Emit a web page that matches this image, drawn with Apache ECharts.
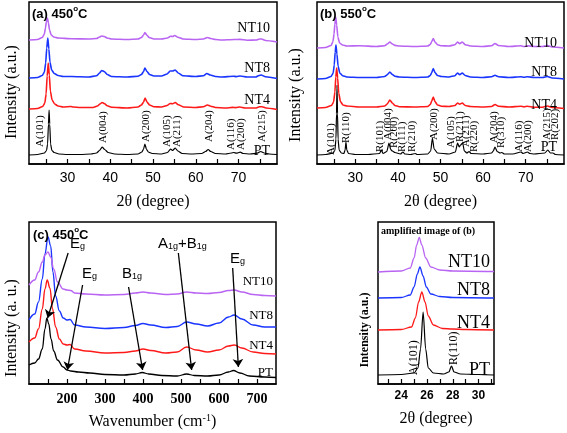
<!DOCTYPE html>
<html><head><meta charset="utf-8">
<script src="https://cdn.jsdelivr.net/npm/echarts@6/dist/echarts.min.js"></script>
<style>html,body{margin:0;padding:0;background:#fff}#c{width:567px;height:433px}</style>
</head><body><div id="c"></div>
<script>
// ---------- Panel (a): XRD 450°C  [2theta, intensity(a.u., offset)] ----------
const xrdA_PT = [[21,9],[23,9.5],[24.6,11],[25.1,13.5],[25.35,20],[25.55,40],[25.7,54],[25.85,40],[26.05,20],[26.35,13.5],[26.9,11.5],[28,10],[30,9.5],[33,9.5],[35.5,10],[36.8,11],[37.5,13.5],[38.1,17],[38.7,14.5],[39.5,11.5],[41,10],[44,9.5],[46.5,10],[47.4,12],[47.8,15],[48.1,20],[48.45,15],[48.9,12],[49.8,10.5],[52,10],[53.4,11.5],[54.1,15],[54.6,13.5],[55.2,16],[55.8,13],[56.8,10.5],[59,10],[61.4,10.5],[62.3,12.5],[62.9,14.5],[63.5,12.5],[64.6,10.5],[67,10],[68.3,11],[68.9,11.5],[69.5,10.8],[70.4,11.8],[71.1,10.5],[72.7,10],[74.4,10.8],[75.2,12.5],[76,11],[77.2,10],[79,9.5]];
const xrdA_NT4 = [[21,55],[23,55.5],[24.2,57.5],[24.7,61],[25.0,70],[25.25,88],[25.5,101],[25.75,89],[26.0,73],[26.4,64],[27.0,60],[27.8,58],[29,57],[30.8,57.5],[31.3,57],[33,56.5],[36,56.5],[37.0,58],[37.6,60],[38.1,61.5],[38.6,60.5],[39.3,58.2],[40.3,56.8],[44,56],[46.5,57],[47.3,59],[47.8,62],[48.15,66],[48.6,62],[49.2,59],[50.2,57.2],[52,57],[53.3,58.5],[54.0,60.5],[54.6,60.2],[55.2,61.5],[55.9,59.3],[57.2,57],[60,56.5],[61.8,57.2],[62.7,59],[63.5,57.8],[64.6,56.5],[67,56],[68.6,56.6],[69.4,56.4],[70.3,57],[71.5,56],[74,56],[74.9,57.2],[75.5,57.3],[76.4,56],[79,54.5]];
const xrdA_NT8 = [[21,86],[23,86.5],[24.1,88.5],[24.6,92],[24.9,101],[25.15,116],[25.4,126],[25.65,115],[25.9,102],[26.3,94],[26.9,90.5],[27.8,88.5],[29,87.5],[31,87.5],[35,87],[36.8,88.2],[37.5,91],[38.0,93.5],[38.6,92.5],[39.3,89.5],[40.3,87.5],[44,87],[46.5,87.8],[47.3,89.5],[47.8,92.5],[48.1,96],[48.6,92.5],[49.2,89.5],[50.2,88],[52,88],[53.3,90],[54.0,93],[54.6,93],[55.2,94],[55.9,91],[57,88.2],[60,87.5],[61.8,88.2],[62.6,90.5],[63.4,89],[64.6,87.5],[66,87],[68.8,87.8],[69.5,87.4],[70.4,88],[72,87],[74,87],[74.8,88.5],[75.3,89],[76.3,87.3],[79,85.5]];
const xrdA_NT10 = [[21,124],[23,124.5],[24.1,126.5],[24.6,130],[24.85,136],[25.05,142],[25.3,146],[25.55,141],[25.8,134],[26.2,129],[26.8,127],[27.8,126],[31,125.2],[35,125],[36.8,125.5],[37.5,127],[38.0,128],[38.6,127.5],[39.3,126],[40.3,125],[44,124.5],[46.5,125],[47.3,126.5],[47.8,129],[48.1,131.5],[48.55,129],[49.1,126.5],[50.2,125],[52,125],[53.4,126],[54.1,127.8],[54.6,127.5],[55.1,128.5],[55.8,126.8],[57,125],[60,124.5],[61.8,125],[62.7,126.5],[63.5,125.5],[64.6,124.5],[66,124],[69,124.5],[70.3,124.6],[72,123.8],[74.2,124],[74.9,125],[75.4,125],[76.3,123.5],[79,122]];

// ---------- Panel (b): XRD 550°C ----------
const xrdB_PT = [[21,9],[23,9.5],[24.7,10.8],[25.2,13.5],[25.45,25],[25.58,50],[25.7,79],[25.82,50],[25.95,25],[26.2,14],[26.7,11],[27.3,10.5],[27.6,14],[27.8,22],[28.0,14],[28.4,10.5],[30,9.5],[33,9.5],[35.7,10.5],[36.1,14],[36.5,10.5],[37.4,12.5],[37.9,21],[38.3,14.5],[38.7,13],[39.3,11.5],[40.6,10],[41.2,12],[41.6,10],[43,9.5],[44.1,10.5],[44.5,9.5],[47,10],[47.7,13],[48.1,26],[48.5,15],[49.3,11],[52,10],[53.5,12],[54.0,21],[54.4,17],[54.7,19],[55.2,21],[55.6,13],[56.2,11],[56.7,12.5],[57.2,10.5],[60,10],[62,11],[62.4,13],[62.8,17],[63.3,12.5],[64,11],[64.4,11.5],[65,10],[67,10],[68.9,12],[69.4,10.5],[70.4,12],[71,10.5],[72,10],[74.5,11],[75.2,14],[75.8,11],[76.4,11],[77,9.5],[79,9]];
const xrdB_NT4 = [[21,56],[23,56.5],[24.4,58.5],[24.9,62],[25.2,72],[25.42,87],[25.62,96],[25.85,86],[26.1,71],[26.5,62.5],[27.1,59],[28,58],[31,57],[35,57],[36.9,58],[37.5,60],[38.1,64],[38.7,61],[39.3,58.5],[40.3,57.3],[44,57],[47,57.5],[47.6,59.5],[47.95,63],[48.3,67],[48.7,62.5],[49.3,59],[50.2,57.8],[52,57.5],[53.4,58.5],[54.0,61],[54.5,59.8],[55.1,61],[55.8,58.5],[57,57.5],[60,57],[62,57.5],[62.8,59.5],[63.6,57.8],[66,57],[68.9,57.8],[69.6,57.1],[70.4,57.8],[72,56.8],[74,56.8],[75.1,58],[76.2,56.5],[79,55.5]];
const xrdB_NT8 = [[21,85],[23,85.5],[24.3,87.5],[24.8,91],[25.05,99],[25.27,112],[25.45,119],[25.68,110],[25.95,98],[26.35,91],[27,88.3],[28,87],[31,86.5],[35,86.5],[36.9,87.5],[37.5,89.2],[38.1,92],[38.7,89.5],[39.3,87.8],[40.3,87],[44,86.5],[47,87],[47.6,88.5],[47.95,91.5],[48.3,95.5],[48.7,91.5],[49.3,88.5],[50.2,87.5],[52,87],[53.4,88.3],[54.0,91],[54.5,89.3],[55.1,91],[55.8,88.5],[57,87],[60,86.5],[62,87.3],[62.8,88.7],[63.6,87.3],[66,86.5],[68.9,87.3],[69.6,86.7],[70.4,87.3],[72,86.5],[74,86.5],[75.1,87.5],[76.2,86],[79,85]];
const xrdB_NT10 = [[21,116],[23,116.5],[24.3,118.5],[24.75,122.5],[25.0,130],[25.2,140],[25.4,147],[25.62,139],[25.9,127],[26.3,121],[27,119],[28,118],[31,118.3],[35,117.5],[36.9,118.3],[37.5,120],[38.1,122],[38.7,120],[39.3,118.6],[40.3,118],[44,117.5],[47,118],[47.6,119.5],[47.95,122.5],[48.3,125.5],[48.7,122],[49.3,119.3],[50.2,118.2],[52,118],[53.4,119.2],[54.0,122],[54.5,120.3],[55.1,122],[55.8,119.3],[57,118],[60,117.5],[62,118.3],[62.8,120.5],[63.6,118.5],[66,117.5],[68.9,118.2],[69.6,117.5],[70.4,118.2],[72,117.5],[74,117.5],[75.1,118.5],[76.2,117],[79,116]];

// ---------- Panel (c): Raman 450°C  [wavenumber, intensity] ----------
const ramC_PT = [[100,19],[115,21],[125,25],[135,35],[142,55],[147,66],[152,60],[158,45],[165,33],[175,24],[190,17],[200,14],[210,13],[230,12],[260,11],[300,9.5],[350,9],[380,10],[398,11.5],[415,10],[450,8.5],[490,8],[515,10],[535,8.5],[570,8],[600,9],[625,12],[638,13.5],[655,11],[680,8],[720,7],[750,6.5]];
const ramC_NT4 = [[100,42],[115,46],[125,55],[135,75],[142,95],[148,104],[155,96],[162,75],[170,57],[180,45],[190,40],[200,39],[208,39.5],[220,35],[250,33],[300,31],[350,31.5],[380,33],[400,35],[420,33.5],[460,31],[490,32],[515,37],[540,34],[570,32],[600,34],[625,38],[640,39],[660,36],[690,32],[720,30.5],[750,30]];
const ramC_NT8 = [[100,64],[115,70],[125,82],[135,105],[142,130],[150,147],[157,138],[163,112],[170,88],[180,73],[190,66],[200,64],[208,64.5],[220,59],[250,57],[300,55.5],[350,56.5],[380,58.5],[400,60.5],[420,59],[460,56.5],[490,57.5],[515,62],[540,60],[570,58],[600,61],[625,67],[640,69],[660,65],[690,59],[720,57],[750,57]];
const ramC_NT10 = [[100,99],[115,104],[125,112],[135,122],[142,129],[150,132],[157,127],[165,115],[175,102],[190,95],[200,94],[210,93.5],[220,91],[250,90],[300,89],[350,89.5],[380,91],[400,92],[420,91],[460,89.5],[490,90],[515,92],[540,91],[570,90.5],[600,91.5],[625,93.5],[640,94],[660,92],[690,89.5],[720,88.5],[750,88]];

// ---------- Panel (d): amplified image of (b) ----------
const ampD_PT = [[22.2,9],[24,9.5],[25,11],[25.3,16],[25.5,35],[25.7,72],[25.9,35],[26.1,16],[26.5,11],[27.3,10],[27.7,12],[27.9,18],[28.1,12],[28.6,10],[30,9.5],[31.2,9]];
const ampD_NT4 = [[22.2,54],[24,54.5],[24.8,57],[25.1,66],[25.35,82],[25.6,92],[25.85,82],[26.1,68],[26.5,59],[27.2,55.5],[28,55],[29,54.5],[31.2,54]];
const ampD_NT8 = [[22.2,86],[24,86.5],[24.7,89],[25.0,97],[25.25,110],[25.45,117],[25.7,108],[25.95,97],[26.3,90],[27,87.5],[28,86.5],[31.2,86]];
const ampD_NT10 = [[22.2,112],[24,113],[24.7,116],[25.0,126],[25.2,139],[25.4,146.5],[25.6,139],[25.9,126],[26.3,117],[27,114],[28,113],[31.2,112.5]];

// ---------- axes ticks / labels ----------
const ticksXRD = [25,30,35,40,45,50,55,60,65,70,75];
const labelsXRD = [30,40,50,60,70];
const ticksRaman = [150,200,250,300,350,400,450,500,550,600,650,700];
const labelsRaman = [200,300,400,500,600,700];
const ticksAmp = [23,24,25,26,27,28,29,30,31];
const labelsAmp = [24,26,28,30];

// ---------- annotations [text, x, y] in data units ----------
const annA = [['A(101)',23.5,17],['A(004)',38.3,21],['A(200)',48.5,22],['A(105)',53.2,17],['A(211)',55.6,17],['A(204)',63.2,22],['A(116)',68.3,14],['A(200)',70.7,14],['A(215)',75.5,22]];
const annB = [['A(101)',24.4,9],['R(110)',27.9,21],['R(101)',35.8,12],['A(004)',37.6,24],['R(200)',39.2,16],['R(111)',41.0,12],['R(210)',43.3,12],['A(200)',48.5,24],['A(105)',52.5,16],['R(211)',54.6,22],['A(211)',56.0,17],['R(220)',57.8,12],['A(204)',62.7,21],['R(310)',64.2,16],['A(116)',68.4,12],['A(200)',70.6,12],['A(215)',75.0,24],['R(202)',76.8,24]];
const annD = [['A(101)',24.95,9],['R(110)',28.1,19]];
// Raman arrows [x1,y1,x2,y2] and labels [text, x, y]
const arrowsC = [[203,131,149,66],[241,99,201,14],[362,97,399,14],[493,131,528,14],[636,116,651,17]];
const arrowLabelsC = [['{b|E}{s|g}',208,142],['{b|E}{s|g}',239.5,112],['{b|B}{s|1g}',345,112],['{b|A}{s|1g}{b|+B}{s|1g}',439.5,142],['{b|E}{s|g}',629,127]];

const SERIF = "'Liberation Serif','Times New Roman',serif";
const SANS = "'Liberation Sans',Arial,sans-serif";
const COL = {PT:'#000000', NT4:'#ff1a1a', NT8:'#1a35ff', NT10:'#b964f2'};

const chart = echarts.init(document.getElementById('c'), null, {renderer:'canvas'});

function ser(data, color, idx, w, smooth){
  return {type:'line', xAxisIndex:idx, yAxisIndex:idx, data, showSymbol:false, symbol:'none',
    smooth: smooth, smoothMonotone:'x', lineStyle:{color, width:w}, silent:true, z:3};
}
function xAx(idx, min, max, ticks, labels, lab, name, nameStyle, nameGap){
  return {type:'value', gridIndex:idx, min, max,
    axisLine:{show:true, onZero:false, lineStyle:{color:'#000', width:1.5}},
    axisTick:{show:true, inside:true, length:5, customValues:ticks, lineStyle:{color:'#000', width:1.2}},
    axisLabel:Object.assign({customValues:labels, color:'#000'}, lab),
    splitLine:{show:false}, name, nameLocation:'middle', nameGap, nameTextStyle:nameStyle};
}
function yAx(idx){ return {type:'value', gridIndex:idx, min:0, max:162, show:false}; }

const gridBase = {show:true, borderColor:'#000', borderWidth:1.5, containLabel:false};
const option = {
  animation:false,
  backgroundColor:'#fff',
  grid:[
    Object.assign({left:29, top:2, width:248, height:162}, gridBase),
    Object.assign({left:317, top:2, width:247, height:162}, gridBase),
    Object.assign({left:29, top:222, width:247, height:162}, gridBase),
    Object.assign({left:378, top:222, width:116, height:162}, gridBase)
  ],
  xAxis:[
    xAx(0,21,79,ticksXRD,labelsXRD,{fontFamily:SANS,fontSize:14,margin:7},'2θ (degree)',{fontFamily:SERIF,fontSize:16,color:'#000'},30),
    xAx(1,21,79,ticksXRD,labelsXRD,{fontFamily:SANS,fontSize:14,margin:7},'2θ (degree)',{fontFamily:SERIF,fontSize:16,color:'#000'},30),
    xAx(2,100,750,ticksRaman,labelsRaman,{fontFamily:SERIF,fontSize:14,fontWeight:'bold',margin:8},'Wavenumber (cm{sup|-1})',{fontFamily:SERIF,fontSize:16,color:'#000',rich:{sup:{fontFamily:SERIF,fontSize:10,verticalAlign:'top',lineHeight:18}}},29),
    xAx(3,22.2,31.2,ticksAmp,labelsAmp,{fontFamily:SANS,fontSize:12,fontWeight:'bold',margin:6},'2θ (degree)',{fontFamily:SERIF,fontSize:16,color:'#000'},27)
  ],
  yAxis:[yAx(0),yAx(1),yAx(2),yAx(3)],
  series:[
    ser(xrdA_PT,COL.PT,0,1.2,0.2), ser(xrdA_NT4,COL.NT4,0,1.6,0.2), ser(xrdA_NT8,COL.NT8,0,1.6,0.2), ser(xrdA_NT10,COL.NT10,0,1.6,0.2),
    ser(xrdB_PT,COL.PT,1,1.2,0.2), ser(xrdB_NT4,COL.NT4,1,1.6,0.2), ser(xrdB_NT8,COL.NT8,1,1.6,0.2), ser(xrdB_NT10,COL.NT10,1,1.6,0.2),
    ser(ramC_PT,COL.PT,2,1.3,0.4), ser(ramC_NT4,COL.NT4,2,1.4,0.4), ser(ramC_NT8,COL.NT8,2,1.4,0.4), ser(ramC_NT10,COL.NT10,2,1.4,0.4),
    ser(ampD_PT,COL.PT,3,1.2,0.3), ser(ampD_NT4,COL.NT4,3,1.3,0.3), ser(ampD_NT8,COL.NT8,3,1.3,0.3), ser(ampD_NT10,COL.NT10,3,1.3,0.3),
    {type:'lines', coordinateSystem:'cartesian2d', xAxisIndex:2, yAxisIndex:2, silent:true, z:6,
     symbol:['none','arrow'], symbolSize:8, lineStyle:{color:'#000', width:1.3, opacity:1},
     data: arrowsC.map(a => ({coords:[[a[0],a[1]],[a[2],a[3]]]}))}
  ]
};
chart.setOption(option);

// ---------- text graphics ----------
const g = [];
function px(idx, x, y){ return chart.convertToPixel({gridIndex:idx}, [x, y]); }
function vtext(idx, list, size){
  list.forEach(a => {
    const p = px(idx, a[1], a[2]);
    g.push({type:'text', x:p[0], y:p[1], rotation:Math.PI/2, silent:true, z:10,
      style:{text:a[0], fontFamily:SERIF, fontSize:size, fill:'#000', align:'left', verticalAlign:'middle'}});
  });
}
vtext(0, annA, 11); vtext(1, annB, 11); vtext(3, annD, 12);

arrowLabelsC.forEach(a => {
  const p = px(2, a[1], a[2]);
  g.push({type:'text', x:p[0], y:p[1], silent:true, z:10,
    style:{text:a[0], fill:'#000', align:'left', verticalAlign:'middle',
      rich:{b:{fontFamily:SANS, fontSize:15, lineHeight:18, verticalAlign:'bottom'}, s:{fontFamily:SANS, fontSize:9, lineHeight:12, verticalAlign:'bottom'}}}});
});

// sample labels (right-aligned)
function lab(x, y, t, size){ g.push({type:'text', x, y, silent:true, z:10, style:{text:t, fontFamily:SERIF, fontSize:size, fill:'#000', align:'right', verticalAlign:'middle'}}); }
lab(270,28,'NT10',14); lab(270,68,'NT8',14); lab(270,100,'NT4',14); lab(270,151,'PT',14);
lab(557,43,'NT10',14); lab(557,72,'NT8',14); lab(557,105,'NT4',14); lab(557,147,'PT',14);
lab(273,282,'NT10',13); lab(273,316,'NT8',13); lab(273,346,'NT4',13); lab(273,373,'PT',13);
lab(490,262,'NT10',18); lab(490,290,'NT8',18); lab(490,323,'NT4',18); lab(490,370,'PT',18);

// panel titles
function ttl(x, y, t){ g.push({type:'text', x, y, silent:true, z:10, style:{text:t, fill:'#000', align:'left', verticalAlign:'middle',
  rich:{n:{fontFamily:SANS, fontSize:13, fontWeight:'bold', lineHeight:16, verticalAlign:'bottom'}, o:{fontFamily:SANS, fontSize:8, fontWeight:'bold', lineHeight:16, verticalAlign:'top'}}}}); }
ttl(32,13,'{n|(a) 450}{o|o}{n|C}');
ttl(320,13,'{n|(b) 550}{o|o}{n|C}');
ttl(33,234,'{n|(c) 450}{o|o}{n|C}');
g.push({type:'text', x:381, y:231, silent:true, z:10, style:{text:'amplified image of (b)', fontFamily:SERIF, fontSize:10, fontWeight:'bold', fill:'#000', align:'left', verticalAlign:'middle'}});

// y-axis titles
function ytitle(x, y, t, size, weight){ g.push({type:'text', x, y, rotation:Math.PI/2, silent:true, z:10, style:{text:t, fontFamily:SERIF, fontSize:size, fontWeight:weight||'normal', fill:'#000', align:'center', verticalAlign:'middle'}}); }
ytitle(12,92,'Intensity (a.u.)',16);
ytitle(296,95,'Intensity (a.u.)',16);
ytitle(12,328,'Intensity (a. u.)',16);
ytitle(365,330,'Intensity (a.u.)',12,'bold');

chart.setOption({graphic:g});
</script></body></html>
